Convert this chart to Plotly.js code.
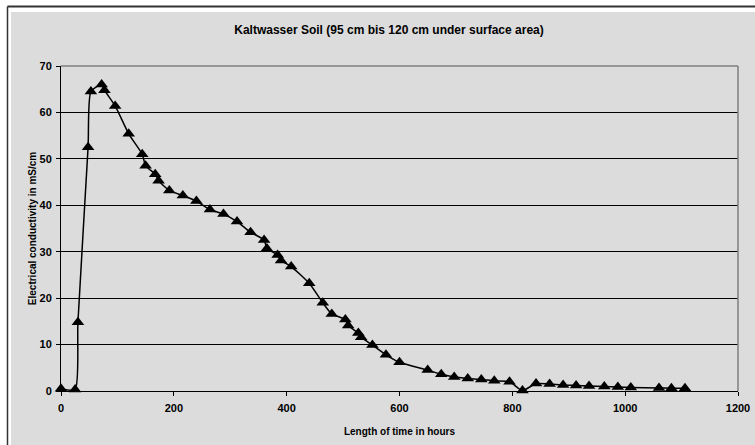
<!DOCTYPE html>
<html>
<head>
<meta charset="utf-8">
<script src="https://cdn.plot.ly/plotly-3.0.1.min.js"></script>
<style>
  html, body { margin: 0; padding: 0; background: #ffffff; }
  #chart { width: 755px; height: 445px; }
</style>
</head>
<body>
<div id="chart"></div>
<script>
// Data
const hours = [0, 25, 30, 48, 53, 72, 77, 96, 120, 144, 150, 167, 173, 192, 216, 240, 264, 288, 312, 336, 360, 365, 384, 390, 408, 440, 464, 480, 504, 509, 527, 532, 552, 576, 600, 650, 674, 697, 721, 745, 768, 795, 818, 842, 866, 890, 913, 936, 963, 987, 1010, 1060, 1082, 1106];
const conductivity = [0.5, 0.3, 14.8, 52.5, 64.5, 66.0, 64.8, 61.4, 55.4, 51.0, 48.5, 46.7, 45.3, 43.2, 42.1, 40.9, 39.1, 38.1, 36.5, 34.2, 32.5, 30.7, 29.3, 28.1, 26.8, 23.2, 19.0, 16.6, 15.4, 14.1, 12.5, 11.6, 9.9, 7.8, 6.2, 4.5, 3.6, 3.0, 2.7, 2.5, 2.2, 2.0, 0.1, 1.6, 1.5, 1.3, 1.2, 1.1, 0.95, 0.85, 0.75, 0.65, 0.6, 0.6];
const xTicks = [0, 200, 400, 600, 800, 1000, 1200];
const yTicks = [0, 10, 20, 30, 40, 50, 60, 70];
const chartTitle = "Kaltwasser Soil (95 cm bis 120 cm under surface area)";
const xTitle = "Length of time in hours";
const yTitle = "Electrical conductivity in mS/cm";

const FONT = "'Liberation Sans', Arial, sans-serif";
const W = 755, H = 445;
const L = 61, R = 17, T = 66, B = 54;
const pw = W - L - R, ph = H - T - B;
// pixel -> paper helpers (for decorative frame only)
const px = v => (v - L) / pw;
const py = v => (H - B - v) / ph;

const trace = {
  x: hours,
  y: conductivity,
  type: 'scatter',
  mode: 'lines+markers',
  line: { color: '#000000', width: 1.5, shape: 'spline', smoothing: 0.6 },
  marker: { symbol: 'triangle-up', size: 11, color: '#000000' },
  cliponaxis: false,
  hoverinfo: 'x+y'
};

const layout = {
  width: W,
  height: H,
  margin: { l: L, r: R, t: T, b: B, pad: 0 },
  paper_bgcolor: '#ffffff',
  plot_bgcolor: 'rgba(0,0,0,0)',
  showlegend: false,
  font: { family: FONT, color: '#000000' },
  title: {
    text: chartTitle,
    font: { family: FONT, size: 12, weight: 'bold', color: '#000000' },
    x: 389 / W, xref: 'container', xanchor: 'center',
    y: 1 - 30 / H, yref: 'container', yanchor: 'middle'
  },
  xaxis: {
    range: [0, 1200],
    tickvals: xTicks,
    ticktext: xTicks.map(String),
    showgrid: false,
    zeroline: false,
    showline: true, linecolor: '#000000', linewidth: 1,
    ticks: 'outside', ticklen: 4, tickcolor: '#000000', tickwidth: 1,
    ticklabelstandoff: 3,
    tickfont: { family: FONT, size: 11, weight: 'bold', color: '#000000' },
    title: { text: xTitle, font: { family: FONT, size: 10, weight: 'bold', color: '#000000' }, standoff: 14 }
  },
  yaxis: {
    range: [0, 70],
    tickvals: yTicks,
    ticktext: yTicks.map(String),
    showgrid: true, gridcolor: '#000000', gridwidth: 1,
    zeroline: false,
    showline: true, linecolor: '#000000', linewidth: 1,
    ticks: 'outside', ticklen: 4, tickcolor: '#000000', tickwidth: 1,
    ticklabelstandoff: 2,
    tickfont: { family: FONT, size: 11, weight: 'bold', color: '#000000' },
    title: { text: yTitle, font: { family: FONT, size: 10, weight: 'bold', color: '#000000' }, standoff: 1 }
  },
  shapes: [
    // grey chart background
    { type: 'rect', xref: 'paper', yref: 'paper', layer: 'below',
      x0: px(11), x1: px(760), y0: py(12), y1: py(450),
      fillcolor: '#dcdcdc', line: { width: 0 } },
    // dark outer frame (top and left)
    { type: 'line', xref: 'paper', yref: 'paper', layer: 'below',
      x0: px(7.5), x1: px(760), y0: py(6.5), y1: py(6.5),
      line: { color: '#333333', width: 2 } },
    { type: 'line', xref: 'paper', yref: 'paper', layer: 'below',
      x0: px(7.5), x1: px(7.5), y0: py(6.5), y1: py(450),
      line: { color: '#333333', width: 1.5 } },
    // grey plot-area border (top and right)
    { type: 'line', xref: 'paper', yref: 'paper', layer: 'above',
      x0: 0, x1: 1, y0: 1, y1: 1, line: { color: '#7f7f7f', width: 1.5 } },
    { type: 'line', xref: 'paper', yref: 'paper', layer: 'above',
      x0: 1, x1: 1, y0: 0, y1: 1, line: { color: '#7f7f7f', width: 1.5 } }
  ]
};

Plotly.newPlot('chart', [trace], layout, { displayModeBar: false, staticPlot: true });
</script>
</body>
</html>
